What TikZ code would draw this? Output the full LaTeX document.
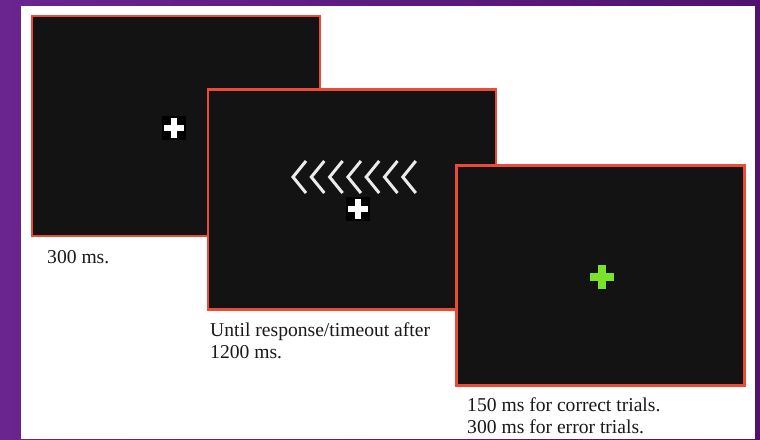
\documentclass[tikz,border=0pt]{standalone}
\usepackage{fontspec}
\setmainfont{Liberation Serif}
\usetikzlibrary{positioning}
\definecolor{slidepurple}{RGB}{106,37,142}
\definecolor{slidepurpledark}{RGB}{80,17,112}
\definecolor{framered}{RGB}{236,74,50}
\definecolor{screenblack}{RGB}{19,19,19}
\definecolor{fixgreen}{RGB}{122,226,40}
\tikzset{
  screen/.style={draw=framered,line width=2.4pt,fill=screenblack,minimum width=288pt,minimum height=220pt,inner sep=0pt},
  caption/.style={anchor=north west,inner sep=0pt,align=left,text=black!90,font=\fontsize{19.6}{22}\selectfont},
  fixbox/.style={fill=black,minimum size=24pt,inner sep=0pt},
  chevron/.style={draw=white!92!black,line width=3pt,line join=miter}
}

\begin{document}
\begin{tikzpicture}[x=1pt,y=-1pt]
\useasboundingbox (0,0) rectangle (760,439);

%slide background
\shade[left color=slidepurple,right color=slidepurpledark] (0,0) rectangle (760,439);
\fill[white] (21,6) rectangle (755,439);

%fixation screen
\node[screen] (screenA) at (176,126) {};
\node[fixbox] (fixA) at (174,128) {};
\draw[white,line width=6.5pt] ([xshift=-10pt]fixA.center)--([xshift=10pt]fixA.center);
\draw[white,line width=6.5pt] ([yshift=-10pt]fixA.center)--([yshift=10pt]fixA.center);

%flanker screen
\node[screen] (screenB) at (352,199.5) {};
\foreach \i in {0,...,6}
  \draw[chevron] ({306+18.3*\i},161)--({293+18.3*\i},177)--({306+18.3*\i},193);
\node[fixbox] (fixB) at (358,209) {};
\draw[white,line width=6.5pt] ([xshift=-10pt]fixB.center)--([xshift=10pt]fixB.center);
\draw[white,line width=6.5pt] ([yshift=-10pt]fixB.center)--([yshift=10pt]fixB.center);

%feedback screen
\node[screen] (screenC) at (600.5,275.5) {};
\coordinate (fixC) at (602,277);
\draw[fixgreen,line width=8pt] ([xshift=-12pt]fixC)--([xshift=12pt]fixC);
\draw[fixgreen,line width=8pt] ([yshift=-12pt]fixC)--([yshift=12pt]fixC);

%some labels
\node[caption] (timeA) at (47,250) {300 ms.};
\node[caption] (timeB) at (210,322) {Until response/timeout after\\1200 ms.};
\node[caption] (timeC) at (467,397) {150 ms for correct trials.\\300 ms for error trials.};
\end{tikzpicture}
\end{document}
